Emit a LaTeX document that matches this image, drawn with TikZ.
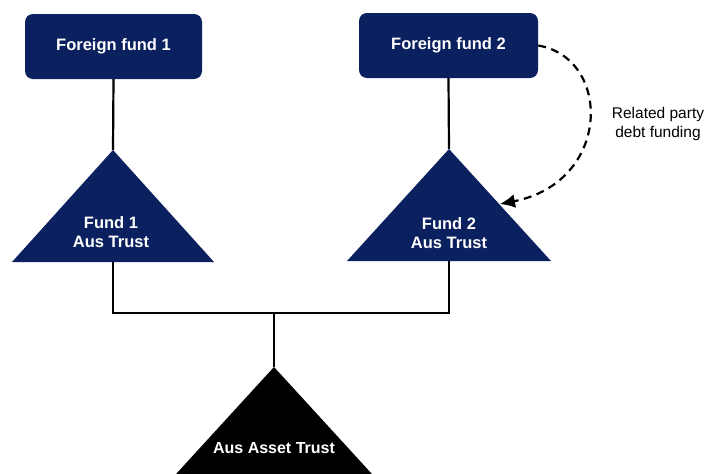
\documentclass[tikz,border=0pt]{standalone}
\usepackage{fontspec}
\setmainfont{Liberation Sans}
\usetikzlibrary{arrows.meta}
\definecolor{navy}{HTML}{0B205E}
\tikzset{
  fbox/.style={fill=navy, rounded corners=8pt, minimum width=177pt, minimum height=65pt, inner sep=0pt, text=white, font=\fontsize{16.5}{19}\selectfont\bfseries},
  trilabel/.style={text=white, align=center, inner sep=0pt, font=\fontsize{16.5}{19}\selectfont\bfseries},
  conn/.style={line width=2.2pt, draw=black},
  dashconn/.style={line width=2.2pt, dash pattern=on 8pt off 5.5pt, -{Latex[length=15pt,width=14pt]}},
  note/.style={align=center, inner sep=0pt, font=\fontsize{15.5}{19}\selectfont}
}
\begin{document}
\begin{tikzpicture}[x=1pt,y=-1pt]
\useasboundingbox (0,0) rectangle (707,474);
\clip (0,0) rectangle (707,474);
% boxes
\node[fbox] (ff1) at (113.5,46.5) {Foreign fund 1};
\node[fbox, minimum width=179pt] (ff2) at (448.5,45.5) {Foreign fund 2};
% triangle 1
\coordinate (t1apex) at (113,150);
\coordinate (t1base) at (113,262);
\fill[navy] (12,262) -- (t1apex) -- (214,262) -- cycle;
\node[trilabel] (t1text) at (111,232) {Fund 1\\Aus Trust};
% triangle 2
\coordinate (t2apex) at (449,149);
\coordinate (t2base) at (449,261);
\fill[navy] (347,261) -- (t2apex) -- (551,261) -- cycle;
\node[trilabel] (t2text) at (449,233) {Fund 2\\Aus Trust};
% asset trust
\coordinate (t3apex) at (274,367);
\fill[black] (166,485) -- (t3apex) -- (382,485) -- cycle;
\node[trilabel, font=\fontsize{16}{19}\selectfont\bfseries] (t3text) at (274,448.5) {Aus Asset Trust};
% connectors
\coordinate (j) at (274,313);
\draw[conn] (ff1.south) -- (t1apex);
\draw[conn] (ff2.south) -- (t2apex);
\draw[conn] (t1base) |- (j) -| (t2base);
\draw[conn] (j) -- (t3apex);
% dashed arrow
\coordinate (arrend) at (500,204);
\draw[dashconn] (ff2.east) .. controls (612,58) and (612,182) .. (arrend);
\node[note] (lbl) at (658,124) {Related party\\debt funding};
\end{tikzpicture}
\end{document}
